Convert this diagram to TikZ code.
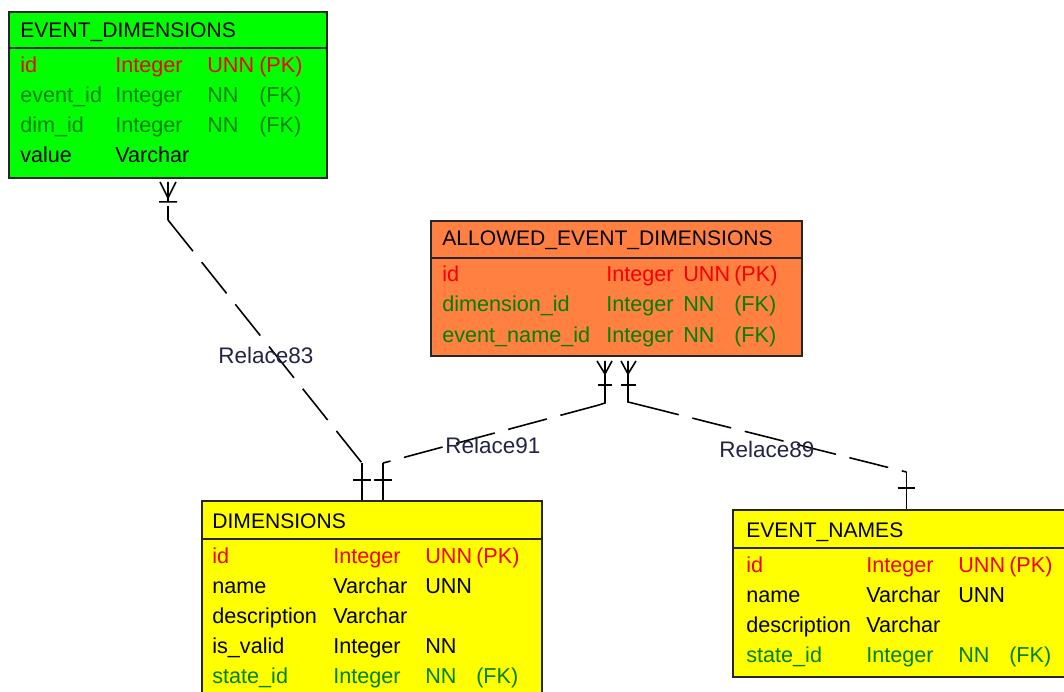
\documentclass[tikz,border=0pt]{standalone}
\usepackage{fontspec}
\setmainfont{Liberation Sans}
\usepackage{tikz}

\definecolor{tblgreen}{RGB}{0,255,0}
\definecolor{tblorange}{RGB}{255,128,64}
\definecolor{tblyellow}{RGB}{255,255,0}
\definecolor{pkred}{RGB}{245,0,0}
\definecolor{fkgreen}{RGB}{0,128,0}
\definecolor{relblue}{RGB}{35,35,70}
\newcommand{\fld}[2]{\makebox[#1][l]{#2}}

\tikzset{
  tbl/.style={draw=black!85, line width=1.1pt, inner sep=0pt},
  cell/.style={anchor=base west, inner sep=0pt, font=\fontsize{12.3}{15}\selectfont},
  head/.style={cell, font=\fontsize{12}{14}\selectfont},
  pk/.style={cell, text=pkred},
  fk/.style={cell, text=fkgreen},
  rel/.style={line width=0.9pt},
  reldash/.style={rel, dash pattern=on 0.8cm off 0.28cm},
  rellabel/.style={anchor=base west, inner sep=0pt, text=relblue, font=\fontsize{12.8}{15}\selectfont},
}

\begin{document}
\begin{tikzpicture}[x=0.02cm, y=-0.02cm]
    \useasboundingbox (0,0) rectangle (1064,692);
    \clip (0,0) rectangle (1064,692);

    % EVENT_DIMENSIONS
    \node[tbl, fill=tblgreen, minimum width=6.36cm, minimum height=3.32cm] (evdim) at (168,95) {};
    \draw[tbl] (evdim.west |- 0,48) -- (evdim.east |- 0,48);
    \node[head] (evdimh) at (20,38) {EVENT\_DIMENSIONS};
    \node[pk] (evdim1) at (20,73) {\fld{1.9cm}{id}\fld{1.84cm}{Integer}\fld{1.04cm}{UNN}(PK)};
    \node[fk] (evdim2) at (20,103) {\fld{1.9cm}{event\_id}\fld{1.84cm}{Integer}\fld{1.04cm}{NN}(FK)};
    \node[fk] (evdim3) at (20,133) {\fld{1.9cm}{dim\_id}\fld{1.84cm}{Integer}\fld{1.04cm}{NN}(FK)};
    \node[cell] (evdim4) at (20,163) {\fld{1.9cm}{value}Varchar};

    % ALLOWED_EVENT_DIMENSIONS
    \node[tbl, fill=tblorange, minimum width=7.42cm, minimum height=2.70cm] (allowed) at (616.5,288.5) {};
    \draw[tbl] (allowed.west |- 0,258) -- (allowed.east |- 0,258);
    \node[head] (allowedh) at (442,246) {ALLOWED\_EVENT\_DIMENSIONS};
    \node[pk] (allowed1) at (442,282) {\fld{3.28cm}{id}\fld{1.54cm}{Integer}\fld{1.02cm}{UNN}(PK)};
    \node[fk] (allowed2) at (442,312) {\fld{3.28cm}{dimension\_id}\fld{1.54cm}{Integer}\fld{1.02cm}{NN}(FK)};
    \node[fk] (allowed3) at (442,342) {\fld{3.28cm}{event\_name\_id}\fld{1.54cm}{Integer}\fld{1.02cm}{NN}(FK)};

    % DIMENSIONS
    \node[tbl, fill=tblyellow, minimum width=6.8cm, minimum height=3.98cm] (dims) at (372,600.5) {};
    \draw[tbl] (dims.west |- 0,539) -- (dims.east |- 0,539);
    \node[head] (dimsh) at (212,528) {DIMENSIONS};
    \node[pk] (dims1) at (212,563) {\fld{2.42cm}{id}\fld{1.84cm}{Integer}\fld{1.02cm}{UNN}(PK)};
    \node[cell] (dims2) at (212,593) {\fld{2.42cm}{name}\fld{1.84cm}{Varchar}UNN};
    \node[cell] (dims3) at (212,623) {\fld{2.42cm}{description}Varchar};
    \node[cell] (dims4) at (212,653) {\fld{2.42cm}{is\_valid}\fld{1.84cm}{Integer}NN};
    \node[fk] (dims5) at (212,683) {\fld{2.42cm}{state\_id}\fld{1.84cm}{Integer}\fld{1.02cm}{NN}(FK)};

    % EVENT_NAMES
    \node[tbl, fill=tblyellow, minimum width=6.94cm, minimum height=3.34cm] (evnames) at (906.5,593.5) {};
    \draw[tbl] (evnames.west |- 0,548) -- (evnames.east |- 0,548);
    \node[head] (evnamesh) at (746,537) {EVENT\_NAMES};
    \node[pk] (evnames1) at (746,572) {\fld{2.4cm}{id}\fld{1.84cm}{Integer}\fld{1.02cm}{UNN}(PK)};
    \node[cell] (evnames2) at (746,602) {\fld{2.4cm}{name}\fld{1.84cm}{Varchar}UNN};
    \node[cell] (evnames3) at (746,632) {\fld{2.4cm}{description}Varchar};
    \node[fk] (evnames4) at (746,662) {\fld{2.4cm}{state\_id}\fld{1.84cm}{Integer}\fld{1.02cm}{NN}(FK)};

    % Relace83
    \draw[rel] (evdim.south) ++(-8,3) -- ++(8,16) -- ++(8,-16) ++(-8,0) -- ++(0,20) ++(-9,0) -- ++(18,0);
    \draw[rel] (evdim.south) ++(0,27) -- ++(0,14) coordinate (r83a);
    \path (dims.north -| 362,0) coordinate (d83) ++(0,-37) coordinate (r83b);
    \draw[rel] (d83) -- (r83b) ++(-9,17) -- ++(18,0);
    \draw[reldash] (r83a) -- (r83b);
    \node[rellabel] (rel83) at (218,363) {Relace83};

    % Relace91
    \path (allowed.south -| 605,0) coordinate (a91);
    \draw[rel] (a91) ++(-8,4) -- ++(8,13) -- ++(7,-13) ++(-7,0) -- ++(0,42) -- ++(-6,2) coordinate (r91a);
    \draw[rel] (a91) ++(-7,28) -- ++(14,0);
    \path (dims.north -| 383,0) coordinate (d91) ++(0,-37) coordinate (r91b);
    \draw[rel] (d91) -- (r91b) ++(-9,17) -- ++(18,0);
    \draw[reldash] (r91a) -- (r91b);
    \node[rellabel] (rel91) at (445,453) {Relace91};

    % Relace89
    \path (allowed.south -| 628,0) coordinate (a89);
    \draw[rel] (a89) ++(-7,4) -- ++(7,13) -- ++(8,-13) ++(-8,0) -- ++(0,41) -- ++(12,3) coordinate (r89a);
    \draw[rel] (a89) ++(-7,28) -- ++(15,0);
    \path (evnames.north) coordinate (e89) ++(0,-37) coordinate (r89b);
    \draw[rel] (e89) -- (r89b) ++(-9,16) -- ++(17,0);
    \draw[reldash] (r89a) -- (r89b);
    \node[rellabel] (rel89) at (719,457) {Relace89};
\end{tikzpicture}
\end{document}
